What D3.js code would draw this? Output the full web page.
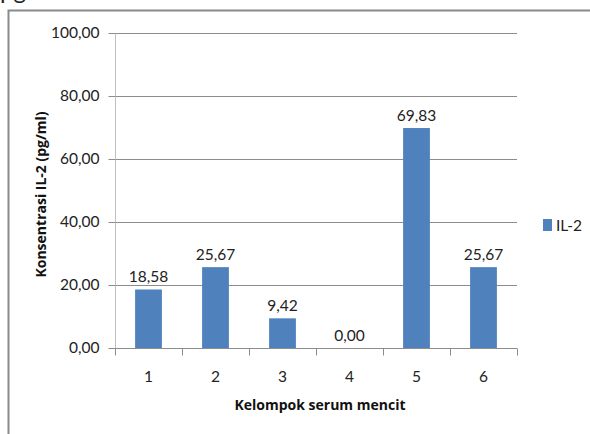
<!DOCTYPE html>
<html><head><meta charset="utf-8">
<script src="https://cdn.jsdelivr.net/npm/d3@7"></script>
<style>body{margin:0;background:#fff}svg{display:block}text{font-family:Lato,"Open Sans",sans-serif}</style>
</head><body><svg id="c" width="590" height="434"></svg>
<script>
const categories = ["1","2","3","4","5","6"];
const values = [18.58, 25.67, 9.42, 0.00, 69.83, 25.67];
const yTicks = [0,20,40,60,80,100];
const seriesName = "IL-2";
const fmt = v => v.toFixed(2).replace(".", ",");

const svg = d3.select("#c");
const m = {l:115, r:517, t:33, b:348};
const x = d3.scaleBand().domain(categories).range([m.l, m.r]).paddingInner(0.6).paddingOuter(0.3);
const xo = d3.scaleBand().domain(categories).range([m.l, m.r]);
const y = d3.scaleLinear().domain([0,100]).range([m.b, m.t]);
const FS = 15.5;

// partial text at top (cut off in the source image)
svg.append("text").attr("x",0).attr("y",-1).attr("font-size",24).attr("fill","#222").text("pg");
// frame
svg.append("path").attr("d",`M8.5,440 V10.5 H600`).attr("fill","none").attr("stroke","#8a8a8a").attr("stroke-width",2);

// gridlines
svg.append("g").selectAll("line").data(yTicks.filter(d=>d>0)).join("line")
  .attr("x1",m.l).attr("x2",m.r).attr("y1",d=>Math.round(y(d))+0.5).attr("y2",d=>Math.round(y(d))+0.5)
  .attr("stroke","#8c8c8c").attr("stroke-width",1);

// y axis
const ya = svg.append("g").attr("transform",`translate(${m.l+0.5},0)`)
  .call(d3.axisLeft(y).tickValues(yTicks).tickFormat(fmt).tickSize(7).tickPadding(9));
ya.select(".domain").attr("stroke","#c0c0c0").attr("d",`M0,${m.t}V${m.b}`);
ya.selectAll(".tick line").attr("stroke","#8c8c8c");
ya.selectAll("text").attr("font-size",FS).attr("fill","#222");

// bars
svg.append("g").selectAll("rect").data(values).join("rect")
  .attr("x",(d,i)=>x(categories[i])).attr("width",x.bandwidth())
  .attr("y",d=>y(d)).attr("height",d=>y(0)-y(d)).attr("fill","#4f81bd");

// x axis
const xa = svg.append("g").attr("transform",`translate(0,${m.b+0.5})`);
xa.append("line").attr("x1",m.l).attr("x2",m.r).attr("stroke","#8c8c8c");
xa.selectAll("line.tk").data(d3.range(categories.length+1)).join("line").attr("class","tk")
  .attr("x1",i=>Math.round(m.l+i*xo.step())+0.5).attr("x2",i=>Math.round(m.l+i*xo.step())+0.5)
  .attr("y1",0).attr("y2",7).attr("stroke","#8c8c8c");
xa.selectAll("text").data(categories).join("text")
  .attr("x",d=>xo(d)+xo.bandwidth()/2).attr("y",33).attr("text-anchor","middle")
  .attr("font-size",FS).attr("fill","#222").text(d=>d);

// value labels
svg.append("g").selectAll("text").data(values).join("text")
  .attr("x",(d,i)=>x(categories[i])+x.bandwidth()/2).attr("y",d=>y(d)-7)
  .attr("text-anchor","middle").attr("font-size",FS).attr("fill","#222").text(fmt);

// axis titles
svg.append("text").attr("x",(m.l+m.r)/2+4).attr("y",410).attr("text-anchor","middle")
  .style("font-family","'Open Sans'").attr("font-size",14).attr("font-weight","bold").attr("fill","#111").text("Kelompok serum mencit");
svg.append("text").attr("transform",`translate(46,${(m.t+m.b)/2+4}) rotate(-90)`).attr("text-anchor","middle")
  .style("font-family","'Open Sans'").attr("font-size",14).attr("font-weight","bold").attr("fill","#111").text("Konsentrasi IL-2 (pg/ml)");

// legend
svg.append("rect").attr("x",543).attr("y",219).attr("width",9).attr("height",12).attr("fill","#4f81bd");
svg.append("text").attr("x",556).attr("y",231).attr("font-size",FS).attr("fill","#222").text(seriesName);
</script></body></html>
